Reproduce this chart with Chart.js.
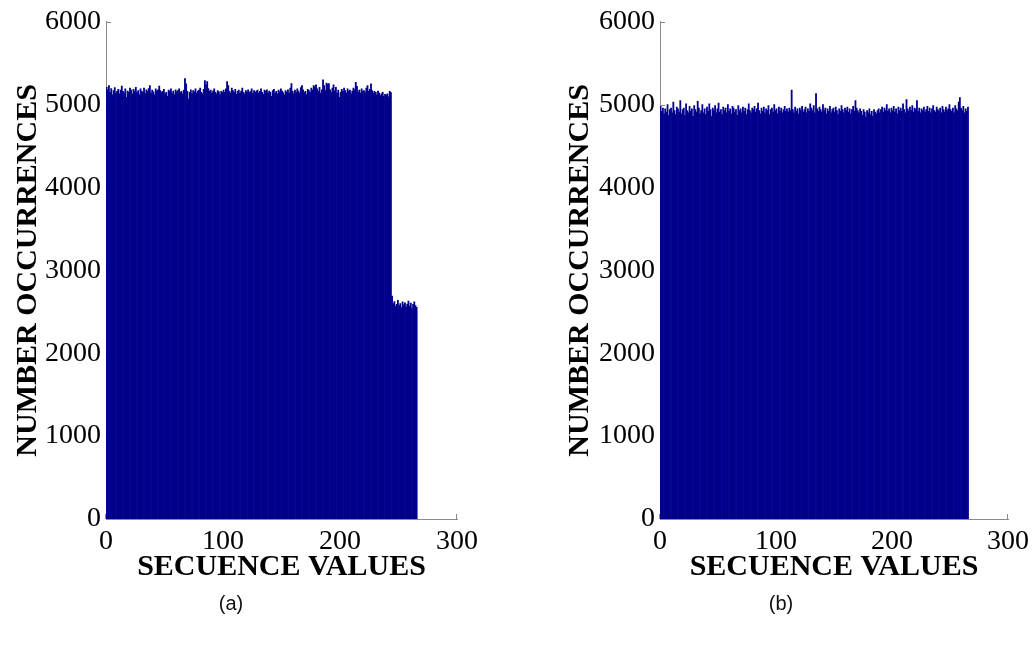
<!DOCTYPE html>
<html>
<head>
<meta charset="utf-8">
<script src="https://cdn.jsdelivr.net/npm/chart.js@4/dist/chart.umd.min.js"></script>
<style>
  html, body { margin: 0; padding: 0; background: #fff; }
  body { width: 1035px; height: 646px; position: relative; overflow: hidden; }
  .panel { position: absolute; top: 0; }
  #wrapA { left: 0; }
  #wrapB { left: 517px; }
  .cap { position: absolute; top: 592px; font: 20px "Liberation Sans", Arial, sans-serif; color: #111;
         transform: translateX(-50%); white-space: nowrap; }
</style>
</head>
<body>
<div class="panel" id="wrapA"><canvas id="histA" width="517" height="646"></canvas></div>
<div class="panel" id="wrapB"><canvas id="histB" width="518" height="646"></canvas></div>
<div class="cap" style="left:231px">(a)</div>
<div class="cap" style="left:781px">(b)</div>
<script>
// Occurrence counts per sequence value (one bin per integer value, starting at 0)
const countsA = [
  5210, 5180, 5230, 5150, 5195, 5120, 5170, 5205, 5140, 5160,
  5185, 5130, 5175, 5225, 5160, 5140, 5190, 5090, 5165, 5150,
  5200, 5175, 5130, 5185, 5160, 5210, 5145, 5170, 5120, 5190,
  5165, 5150, 5200, 5135, 5180, 5160, 5195, 5230, 5140, 5175,
  5155, 5120, 5190, 5165, 5180, 5225, 5170, 5145, 5160, 5185,
  5130, 5150, 5100, 5175, 5160, 5190, 5140, 5165, 5120, 5180,
  5155, 5170, 5190, 5145, 5160, 5130, 5175, 5315, 5250, 5160,
  5066, 5150, 5180, 5135, 5170, 5155, 5190, 5140, 5165, 5175,
  5200, 5150, 5130, 5185, 5290, 5240, 5280, 5195, 5160, 5175,
  5140, 5165, 5190, 5150, 5130, 5170, 5155, 5120, 5160, 5145,
  5175, 5150, 5190, 5280, 5230, 5160, 5140, 5200, 5170, 5150,
  5185, 5125, 5160, 5175, 5140, 5165, 5200, 5150, 5130, 5170,
  5155, 5180, 5145, 5160, 5190, 5135, 5170, 5150, 5165, 5175,
  5140, 5160, 5190, 5150, 5125, 5175, 5160, 5180, 5140, 5165,
  5150, 5100, 5170, 5185, 5140, 5160, 5130, 5175, 5155, 5190,
  5165, 5145, 5120, 5170, 5150, 5180, 5140, 5200, 5255, 5160,
  5130, 5175, 5150, 5190, 5165, 5140, 5205, 5230, 5180, 5150,
  5160, 5120, 5185, 5170, 5145, 5200, 5175, 5230, 5215, 5240,
  5190, 5160, 5210, 5140, 5180, 5300, 5230, 5170, 5260, 5245,
  5255, 5180, 5150, 5200, 5240, 5165, 5210, 5140, 5175, 5090,
  5150, 5185, 5160, 5200, 5170, 5140, 5190, 5160, 5175, 5130,
  5165, 5200, 5180, 5270, 5220, 5150, 5175, 5140, 5190, 5160,
  5170, 5145, 5200, 5230, 5160, 5185, 5250, 5170, 5140, 5160,
  5150, 5120, 5165, 5140, 5110, 5130, 5150, 5100, 5125, 5115,
  5130, 5095, 5160, 5145,
  2690, 2600, 2625, 2565, 2590, 2640, 2575, 2600, 2550, 2620,
  2585, 2610, 2560, 2595, 2630, 2570, 2605, 2545, 2590, 2620,
  2575, 2555
];

const countsB = [
  4980, 4920, 4960, 4890, 4950, 4910, 5000, 4870, 4940, 4960,
  4900, 5030, 4930, 4880, 4970, 4950, 4910, 5050, 4890, 4940,
  4960, 4870, 5010, 4930, 4900, 4980, 4920, 4950, 4860, 4990,
  4940, 4910, 5040, 4960, 4890, 4930, 5000, 4900, 4950, 4880,
  4970, 4920, 5010, 4940, 4860, 4960, 4930, 4990, 4900, 4950,
  5020, 4910, 4940, 4880, 4970, 4930, 4960, 4900, 5000, 4920,
  4950, 4890, 4980, 4960, 4910, 4940, 4870, 4990, 4930, 4950,
  4900, 4970, 4920, 4960, 4880, 4940, 5010, 4930, 4900, 4960,
  4940, 4980, 4910, 4950, 5020, 4930, 4890, 4960, 4920, 4970,
  4900, 4950, 4930, 4990, 4880, 4940, 4960, 4910, 5000, 4930,
  4950, 4890, 4970, 4920, 4960, 4900, 4940, 4980, 4920, 4950,
  4910, 4960, 4930, 5175, 4940, 4900, 4970, 4920, 4950, 4890,
  4960, 4930, 4980, 4910, 4940, 4970, 4900, 4950, 4920, 5010,
  4960, 4930, 4990, 4900, 5135, 4950, 4920, 4970, 4940, 4910,
  5000, 4930, 4960, 4890, 4950, 4920, 4980, 4900, 4940, 4960,
  4910, 4970, 4930, 4880, 4950, 4920, 4990, 4940, 4900, 4960,
  4930, 4970, 4910, 4950, 4890, 4940, 4980, 4920, 5050, 4960,
  4930, 4900, 4950, 4920, 4870, 4940, 4910, 4850, 4930, 4900,
  4950, 4880, 4920, 4860, 4940, 4910, 4890, 4930, 4950, 4900,
  4940, 4970, 4910, 4960, 4930, 5000, 4920, 4950, 4900, 4960,
  4930, 4980, 4910, 4950, 4890, 4970, 4930, 4960, 4920, 5010,
  4940, 4900, 5060, 4950, 4920, 4970, 4930, 4990, 4910, 4960,
  4940, 5050, 4920, 4960, 4900, 4950, 4930, 4970, 4910, 4940,
  4980, 4920, 4960, 4900, 4950, 4990, 4930, 4910, 4970, 4940,
  4920, 4960, 4900, 4980, 4940, 4910, 4970, 4930, 4950, 5000,
  4940, 4920, 4960, 4900, 4990, 4950, 4930, 5030, 5085, 4960,
  4930, 4980, 4900, 4950, 4920, 4970
];

const xTicks = [0, 100, 200, 300];
const yTicks = [0, 1000, 2000, 3000, 4000, 5000, 6000];
const xTitle = 'SECUENCE VALUES';
const yTitle = 'NUMBER OCCURRENCES';

const barColor = '#00008c';
const axisColor = '#8a8a8a';
const serif = '"Liberation Serif", "Times New Roman", serif';

// Short tick marks drawn inward from the axis lines, beneath the bars
const inwardTicks = {
  id: 'inwardTicks',
  beforeDatasetsDraw(chart) {
    const { ctx, chartArea: a, scales: { x, y } } = chart;
    ctx.save();
    ctx.strokeStyle = axisColor;
    ctx.lineWidth = 1;
    ctx.beginPath();
    x.ticks.forEach(t => {
      const px = Math.round(x.getPixelForValue(t.value)) - 0.5;
      ctx.moveTo(px, a.bottom); ctx.lineTo(px, a.bottom - 5);
    });
    y.ticks.forEach(t => {
      const py = Math.round(y.getPixelForValue(t.value)) + 0.5;
      ctx.moveTo(a.left, py); ctx.lineTo(a.left + 5, py);
    });
    ctx.stroke();
    ctx.restore();
  }
};

function makeHistogram(canvasId, counts, pad, yAxisWidth) {
  const points = counts.map((c, i) => ({ x: i + 0.5, y: c }));
  return new Chart(document.getElementById(canvasId), {
    type: 'bar',
    data: {
      datasets: [{
        data: points,
        backgroundColor: barColor,
        borderWidth: 0,
        barPercentage: 1.0,
        categoryPercentage: 1.0
      }]
    },
    options: {
      responsive: false,
      animation: false,
      devicePixelRatio: 1,
      layout: { padding: pad },
      plugins: { legend: { display: false }, tooltip: { enabled: false } },
      scales: {
        x: {
          type: 'linear',
          min: 0, max: 300,
          offset: false,
          afterBuildTicks: s => { s.ticks = xTicks.map(v => ({ value: v })); },
          afterFit: s => { s.height = 66; },
          grid: { display: false, drawTicks: false, offset: false },
          border: { display: true, color: axisColor, width: 1 },
          ticks: { color: '#000', font: { family: serif, size: 28 }, padding: 6, maxRotation: 0,
                   callback: v => String(v) },
          title: { display: true, text: xTitle, color: '#000', padding: 0,
                   font: { family: serif, size: 30, weight: 'bold' } }
        },
        y: {
          min: 0, max: 6000,
          afterBuildTicks: s => { s.ticks = yTicks.map(v => ({ value: v })); },
          afterFit: s => { s.width = yAxisWidth; },
          grid: { display: false, drawTicks: false },
          border: { display: true, color: axisColor, width: 1 },
          ticks: { color: '#000', font: { family: serif, size: 28 }, padding: 5,
                   callback: v => String(v) },
          title: { display: true, text: yTitle, color: '#000', padding: 0,
                   font: { family: serif, size: 30, weight: 'bold' } }
        }
      }
    },
    plugins: [inwardTicks]
  });
}

makeHistogram('histA', countsA, { left: 10, right: 60, top: 17, bottom: 61 }, 96);
makeHistogram('histB', countsB, { left: 45, right: 25, top: 17, bottom: 61 }, 98);
</script>
</body>
</html>
